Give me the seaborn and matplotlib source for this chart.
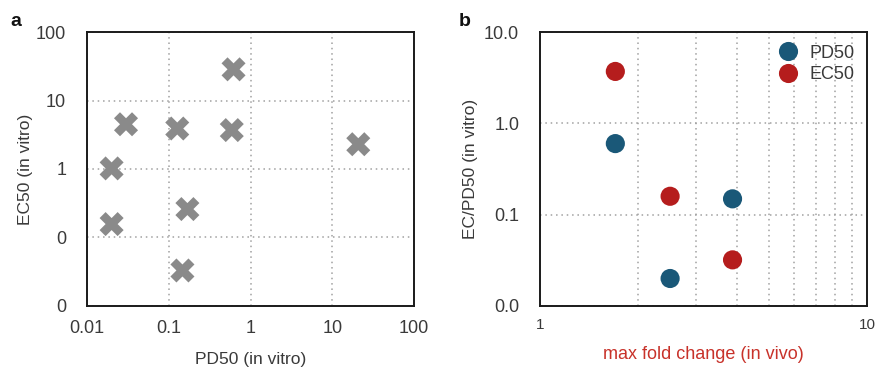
import numpy as np
import pandas as pd
import matplotlib
matplotlib.use("Agg")
import matplotlib.pyplot as plt
import matplotlib.ticker as mticker
import seaborn as sns

# panel a: in vitro potency
pd50_vitro = [0.62, 0.030, 0.127, 0.59, 20.8, 0.020, 0.169, 0.020, 0.147]
ec50_vitro = [28.5, 4.5, 3.9, 3.7, 2.3, 1.02, 0.26, 0.157, 0.033]

# panel b: ratio vs in vivo fold change
fold_change = [1.70, 2.50, 3.88, 1.70, 2.50, 3.88]
ratio = [0.60, 0.020, 0.149, 3.70, 0.159, 0.032]
series = ["PD50", "PD50", "PD50", "EC50", "EC50", "EC50"]

palette = {"PD50": "#1a5878", "EC50": "#b51d1d"}
text_col = "#3a3a3a"

sns.set_style("white")
plt.rcParams["font.family"] = ["Liberation Sans", "DejaVu Sans"]
plt.rcParams["text.color"] = text_col
plt.rcParams["axes.labelcolor"] = text_col
plt.rcParams["xtick.color"] = text_col
plt.rcParams["ytick.color"] = text_col

fig = plt.figure(figsize=(8.77, 3.70), dpi=100)
ax1 = fig.add_axes([0.0992, 0.173, 0.3729, 0.7405])
ax2 = fig.add_axes([0.6157, 0.173, 0.3729, 0.7405])

grid_kw = dict(color="#a0a0a0", linestyle=(0, (1, 2.5)), linewidth=1.1)

# ---- panel a
df_a = pd.DataFrame({"pd50": pd50_vitro, "ec50": ec50_vitro})
sns.scatterplot(data=df_a, x="pd50", y="ec50", marker="X", s=300,
                color="#8a8a8a", edgecolor="none", ax=ax1, zorder=3)
ax1.set_xscale("log")
ax1.set_yscale("log")
ax1.set_xlim(0.01, 100)
ax1.set_ylim(0.01, 100)
ax1.xaxis.set_major_locator(mticker.LogLocator(base=10, numticks=10))
ax1.yaxis.set_major_locator(mticker.LogLocator(base=10, numticks=10))
ax1.xaxis.set_minor_locator(mticker.NullLocator())
ax1.yaxis.set_minor_locator(mticker.NullLocator())
ax1.xaxis.set_major_formatter(mticker.FuncFormatter(lambda v, p: f"{v:g}"))
ax1.yaxis.set_major_formatter(mticker.FuncFormatter(lambda v, p: f"{v:.0f}"))
ax1.grid(True, which="major", **grid_kw)
ax1.set_xlabel("PD50 (in vitro)", fontsize=12.5, labelpad=11)
ax1.set_ylabel("EC50 (in vitro)", fontsize=12.5, labelpad=2)

# ---- panel b
df_b = pd.DataFrame({"fold": fold_change, "ratio": ratio, "series": series})
sns.scatterplot(data=df_b, x="fold", y="ratio", hue="series", palette=palette,
                s=190, edgecolor="none", ax=ax2, zorder=3)
ax2.set_xscale("log")
ax2.set_yscale("log")
ax2.set_xlim(1, 10)
ax2.set_ylim(0.01, 10)
ax2.xaxis.set_major_locator(mticker.FixedLocator([1, 10]))
ax2.xaxis.set_minor_locator(mticker.FixedLocator([2, 3, 4, 5, 6, 7, 8, 9]))
ax2.xaxis.set_minor_formatter(mticker.NullFormatter())
ax2.yaxis.set_major_locator(mticker.LogLocator(base=10, numticks=10))
ax2.yaxis.set_minor_locator(mticker.NullLocator())
ax2.xaxis.set_major_formatter(mticker.FuncFormatter(lambda v, p: f"{v:g}"))
ax2.yaxis.set_major_formatter(mticker.FuncFormatter(lambda v, p: f"{v:.1f}"))
ax2.grid(True, which="minor", axis="x", **grid_kw)
ax2.grid(True, which="major", axis="y", **grid_kw)
ax2.set_xlabel("max fold change (in vivo)", fontsize=13, labelpad=10,
               color="#c8322a")
ax2.set_ylabel("EC/PD50 (in vitro)", fontsize=12.5, labelpad=4)
ax2.legend(loc="upper right", frameon=False, fontsize=13, title=None,
           handletextpad=0.2, labelspacing=0.25, borderaxespad=0.3,
           markerscale=1.0)

for ax in (ax1, ax2):
    ax.tick_params(axis="both", which="both", length=0, labelsize=13)
    ax.tick_params(axis="x", pad=10)
    ax.tick_params(axis="y", pad=15)
    for sp in ax.spines.values():
        sp.set_visible(True)
        sp.set_color("#1a1a1a")
        sp.set_linewidth(1.4)
    ax.set_axisbelow(True)

ax2.tick_params(axis="x", labelsize=11, pad=9)

fig.text(0.012, 0.965, "a", fontsize=14, fontweight="bold", color="#111111", va="top")
fig.text(0.523, 0.965, "b", fontsize=14, fontweight="bold", color="#111111", va="top")

fig.savefig("out.png", dpi=100)
